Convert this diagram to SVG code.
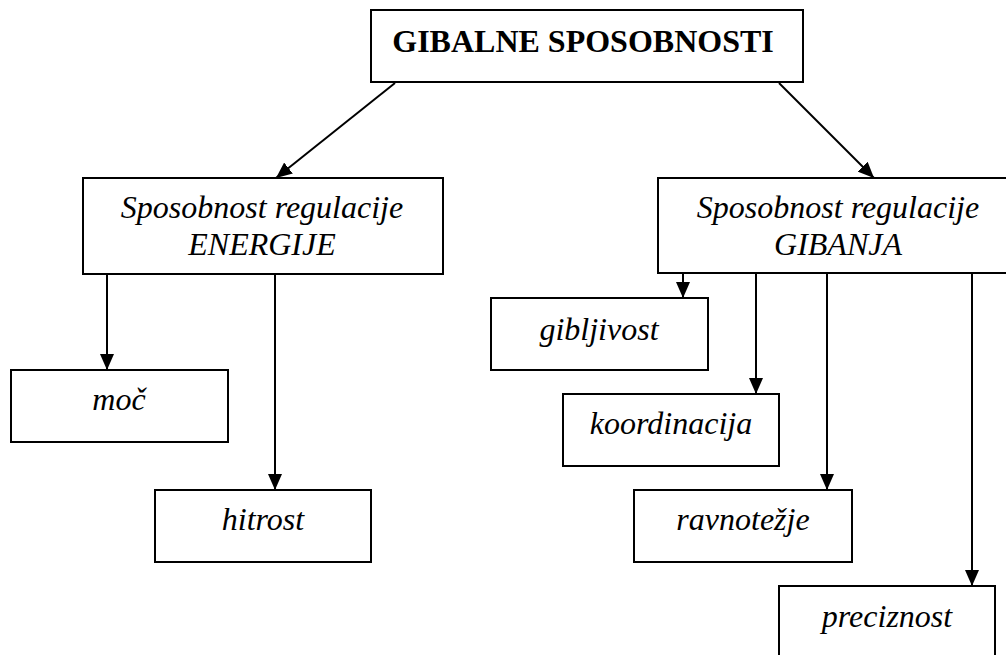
<svg xmlns="http://www.w3.org/2000/svg" width="1006" height="655" viewBox="0 0 1006 655">
  <defs>
    <marker id="arr" markerUnits="userSpaceOnUse" markerWidth="16" markerHeight="14" refX="16" refY="7" orient="auto">
      <path d="M0,0 L16,7 L0,14 z" fill="#000"/>
    </marker>
    <style>
      .box { fill: #fff; stroke: #000; stroke-width: 2; }
      .t { font-family: "Liberation Serif", "Times New Roman", serif; font-size: 32px; font-style: italic; fill: #000; text-anchor: middle; }
      .tb { font-family: "Liberation Serif", "Times New Roman", serif; font-size: 32px; font-weight: bold; fill: #000; text-anchor: middle; }
      .c { stroke: #000; stroke-width: 2; fill: none; marker-end: url(#arr); }
    </style>
  </defs>
  <rect width="1006" height="655" fill="#fff"/>

  <g id="connectors">
    <line class="c" x1="395" y1="83" x2="276" y2="178"/>
    <line class="c" x1="779" y1="83" x2="874" y2="178"/>
    <line class="c" x1="107" y1="274" x2="107" y2="370"/>
    <line class="c" x1="275" y1="274" x2="275" y2="490"/>
    <line class="c" x1="683" y1="273" x2="683" y2="298"/>
    <line class="c" x1="756" y1="273" x2="756" y2="394"/>
    <line class="c" x1="827" y1="273" x2="827" y2="490"/>
    <line class="c" x1="972" y1="273" x2="972" y2="586"/>
  </g>

  <g id="root">
    <rect class="box" x="371" y="10" width="432" height="72"/>
    <text class="tb" x="583" y="52">GIBALNE SPOSOBNOSTI</text>
  </g>

  <g id="energija">
    <rect class="box" x="83" y="178" width="360" height="96"/>
    <text class="t" x="262" y="218">Sposobnost regulacije</text>
    <text class="t" x="262" y="255">ENERGIJE</text>
  </g>

  <g id="gibanja">
    <rect class="box" x="658" y="178" width="360" height="95"/>
    <text class="t" x="838" y="218">Sposobnost regulacije</text>
    <text class="t" x="838" y="255">GIBANJA</text>
  </g>

  <g id="moc">
    <rect class="box" x="11" y="370" width="217" height="72"/>
    <text class="t" x="119" y="410">moč</text>
  </g>

  <g id="hitrost">
    <rect class="box" x="155" y="490" width="216" height="72"/>
    <text class="t" x="263" y="530">hitrost</text>
  </g>

  <g id="gibljivost">
    <rect class="box" x="491" y="298" width="217" height="72"/>
    <text class="t" x="599" y="340">gibljivost</text>
  </g>

  <g id="koordinacija">
    <rect class="box" x="563" y="394" width="216" height="72"/>
    <text class="t" x="671" y="434">koordinacija</text>
  </g>

  <g id="ravnotezje">
    <rect class="box" x="634" y="490" width="218" height="72"/>
    <text class="t" x="743" y="530">ravnotežje</text>
  </g>

  <g id="preciznost">
    <rect class="box" x="779" y="586" width="216" height="72"/>
    <text class="t" x="887" y="627">preciznost</text>
  </g>
</svg>
